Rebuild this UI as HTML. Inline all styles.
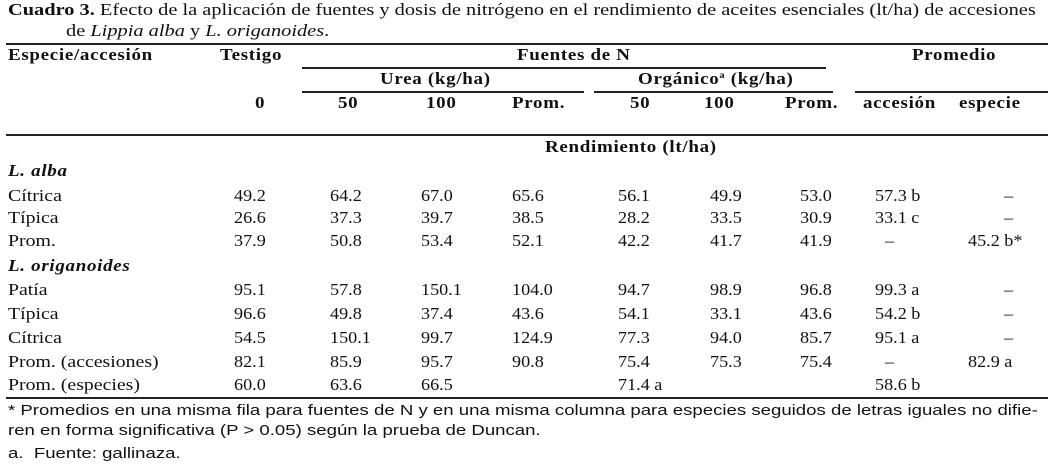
<!DOCTYPE html>
<html><head><meta charset="utf-8">
<style>
body{margin:0;width:1052px;height:467px;background:#fff;position:relative;overflow:hidden;font-family:"Liberation Serif",serif;color:#111}
.t{position:absolute;white-space:nowrap;font-size:16.5px;line-height:20px;transform-origin:0 50%;transform:scaleX(1.1)}
.s{transform:scaleX(1.2)}
.b{font-weight:bold;letter-spacing:0.6px;transform:scaleX(1.15)}
.f{font-family:"Liberation Sans",sans-serif;font-size:15px;transform:scaleX(1.24)}
.r{position:absolute;height:1.5px;background:#222}
sup{font-size:9px;line-height:0;vertical-align:6px}
</style></head>
<body>
<div class="t" style="left:8px;top:0px;transform:scaleX(1.235)"><b>Cuadro 3.</b> Efecto de la aplicación de fuentes y dosis de nitrógeno en el rendimiento de aceites esenciales (lt/ha) de accesiones</div>
<div class="t" style="left:66px;top:21px;transform:scaleX(1.235)">de <i>Lippia alba</i> y <i>L. origanoides</i>.</div>
<div class="r" style="left:6px;width:1042px;top:43px"></div>
<div class="r" style="left:302px;width:524px;top:67px"></div>
<div class="r" style="left:302px;width:282px;top:91px"></div>
<div class="r" style="left:594px;width:239px;top:91px"></div>
<div class="r" style="left:855px;width:193px;top:91px"></div>
<div class="r" style="left:6px;width:1042px;top:134px"></div>
<div class="r" style="left:6px;width:1042px;top:397px"></div>

<div class="t b" style="left:8px;top:45px">Especie/accesión</div>
<div class="t b" style="left:220px;top:45px">Testigo</div>
<div class="t b" style="left:517px;top:45px">Fuentes de N</div>
<div class="t b" style="left:912px;top:45px">Promedio</div>
<div class="t b" style="left:380px;top:69px">Urea (kg/ha)</div>
<div class="t b" style="left:638px;top:69px">Orgánico<sup>a</sup> (kg/ha)</div>
<div class="t b" style="left:255px;top:93px">0</div>
<div class="t b" style="left:338px;top:93px">50</div>
<div class="t b" style="left:426px;top:93px">100</div>
<div class="t b" style="left:512px;top:93px">Prom.</div>
<div class="t b" style="left:630px;top:93px">50</div>
<div class="t b" style="left:704px;top:93px">100</div>
<div class="t b" style="left:785px;top:93px">Prom.</div>
<div class="t b" style="left:863px;top:93px">accesión</div>
<div class="t b" style="left:959px;top:93px">especie</div>
<div class="t b" style="left:545px;top:137px">Rendimiento (lt/ha)</div>

<div class="t b" style="left:8px;top:161px"><i>L. alba</i></div>
<div class="t b" style="left:8px;top:256px"><i>L. origanoides</i></div>

<div id="rows"></div>

<div class="t f" style="left:8px;top:401px">* Promedios en una misma fila para fuentes de N y en una misma columna para especies seguidos de letras iguales no difie-</div>
<div class="t f" style="left:8px;top:421px">ren en forma significativa (P &gt; 0.05) según la prueba de Duncan.</div>
<div class="t f" style="left:8px;top:444px">a.&nbsp; Fuente: gallinaza.</div>

<script>
const rowLabels=["Cítrica","Típica","Prom.","Patía","Típica","Cítrica","Prom. (accesiones)","Prom. (especies)"];
const rowTops=[186,208,231,280,304,328,352,375];
const rowValues=[
["49.2","64.2","67.0","65.6","56.1","49.9","53.0","57.3 b","–"],
["26.6","37.3","39.7","38.5","28.2","33.5","30.9","33.1 c","–"],
["37.9","50.8","53.4","52.1","42.2","41.7","41.9","–","45.2 b*"],
["95.1","57.8","150.1","104.0","94.7","98.9","96.8","99.3 a","–"],
["96.6","49.8","37.4","43.6","54.1","33.1","43.6","54.2 b","–"],
["54.5","150.1","99.7","124.9","77.3","94.0","85.7","95.1 a","–"],
["82.1","85.9","95.7","90.8","75.4","75.3","75.4","–","82.9 a"],
["60.0","63.6","66.5","","71.4 a","","","58.6 b",""]];
const colX=[234,330,421,512,618,710,800,875,968];
const host=document.getElementById('rows');
rowLabels.forEach((lab,i)=>{
  const l=document.createElement('div');
  l.className='t s';l.style.left='8px';l.style.top=rowTops[i]+'px';l.textContent=lab;
  
  
  host.appendChild(l);
  rowValues[i].forEach((v,j)=>{
    if(!v)return;
    const c=document.createElement('div');
    c.className='t';
    let x=colX[j];
    if(v==='–'){x+= (j===7?10:36);}
    c.style.left=x+'px';c.style.top=rowTops[i]+'px';c.textContent=v;
    
    
    host.appendChild(c);
  });
});
</script>
</body></html>
